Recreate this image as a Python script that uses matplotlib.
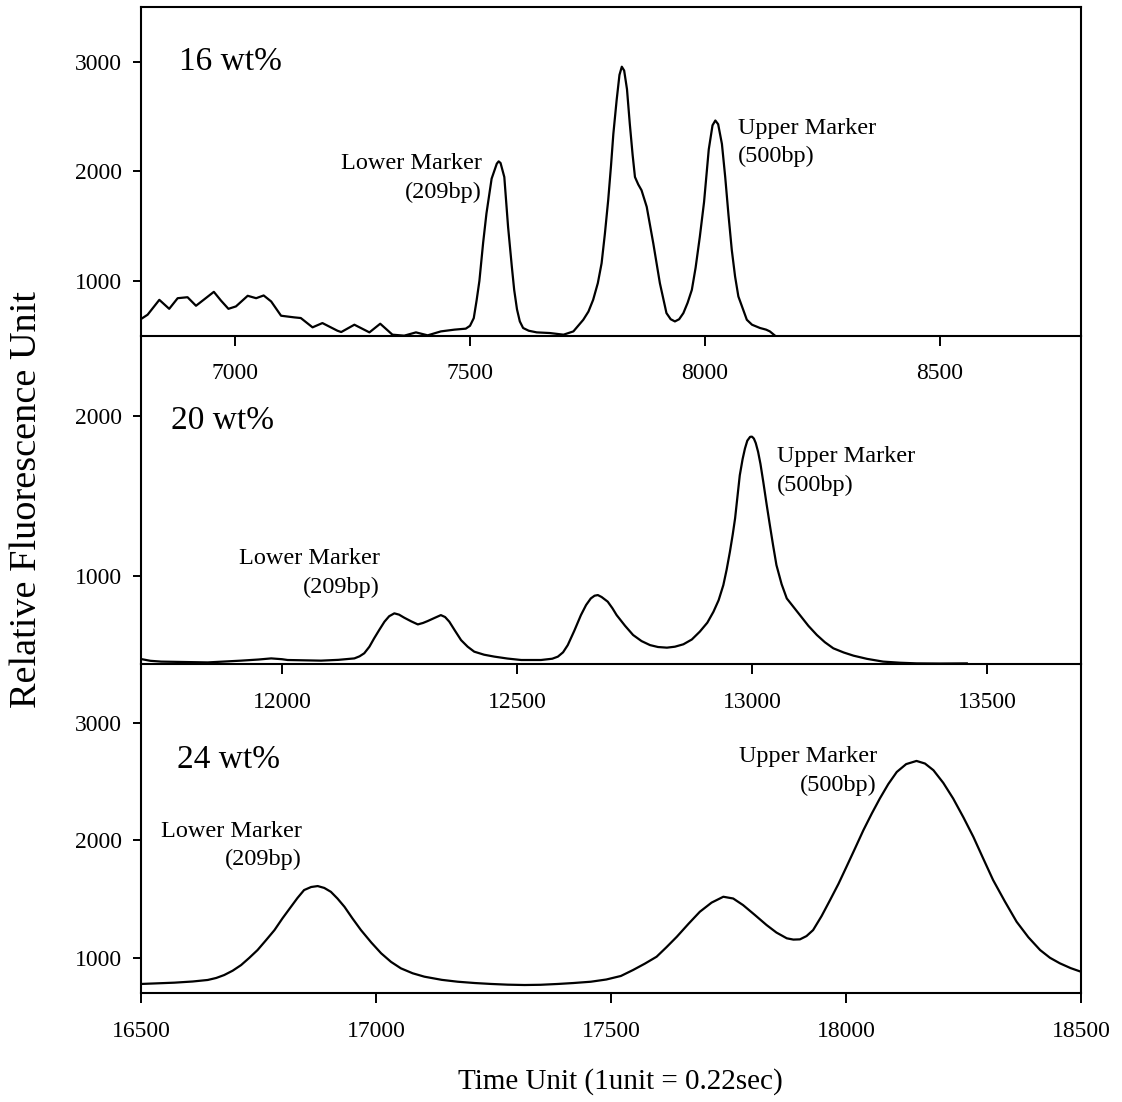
import matplotlib
matplotlib.use("Agg")
import matplotlib.pyplot as plt

plt.rcParams["font.family"] = ["Liberation Serif", "DejaVu Serif"]

# 16 wt% trace
x16 = [6800, 6814, 6839, 6860, 6878, 6899, 6917, 6935, 6955, 6970, 6986, 7002,
       7027, 7045, 7061, 7077, 7098, 7126, 7140, 7165, 7186, 7218, 7226, 7254,
       7286, 7309, 7335, 7360, 7385, 7410, 7438, 7467, 7491, 7500, 7508, 7514,
       7520, 7528, 7535, 7546, 7557, 7561, 7565, 7573, 7581, 7589, 7594, 7600,
       7606, 7613, 7625, 7642, 7670, 7699, 7720, 7741, 7752, 7762, 7772, 7780,
       7787, 7794, 7800, 7805, 7812, 7818, 7823, 7828, 7834, 7840, 7846, 7851,
       7858, 7865, 7876, 7890, 7904, 7918, 7927, 7936, 7945, 7954, 7963, 7972,
       7980, 7989, 7998, 8008, 8016, 8022, 8028, 8036, 8043, 8050, 8057, 8064,
       8071, 8089, 8100, 8117, 8130, 8138, 8149]
y16 = [652, 691, 827, 745, 842, 851, 773, 833, 900, 821, 745, 767,
       864, 842, 867, 812, 682, 667, 661, 576, 615, 545, 533, 600,
       530, 609, 509, 500, 530, 503, 539, 555, 564, 590, 660, 820,
       1000, 1350, 1615, 1933, 2070, 2091, 2076, 1948, 1494, 1130, 918, 740,
       630, 570, 545, 530, 524, 509, 539, 645, 720, 827, 980, 1161,
       1430, 1736, 2050, 2342, 2650, 2880, 2955, 2920, 2750, 2433, 2150, 1948,
       1880, 1827, 1676, 1342, 979, 706, 650, 630, 650, 706, 800, 918,
       1120, 1403, 1720, 2200, 2420, 2464, 2430, 2250, 1948, 1600, 1282, 1040,
       858, 645, 600, 570, 555, 539, 500]

# 20 wt% trace
x20 = [11700, 11720, 11743, 11842, 11913, 11950, 11977, 12000, 12012, 12083,
       12120, 12154, 12165, 12175, 12186, 12196, 12207, 12218, 12228, 12239,
       12249, 12260, 12275, 12289, 12300, 12310, 12325, 12338, 12347, 12356,
       12368, 12381, 12395, 12409, 12430, 12452, 12480, 12509, 12551, 12575,
       12587, 12598, 12608, 12622, 12636, 12647, 12657, 12665, 12672, 12680,
       12693, 12703, 12712, 12730, 12747, 12765, 12783, 12800, 12819, 12836,
       12854, 12872, 12889, 12905, 12918, 12929, 12939, 12946, 12953, 12959,
       12964, 12974, 12980, 12985, 12990, 12996, 13000, 13004, 13008, 13013,
       13018, 13024, 13031, 13038, 13045, 13052, 13063, 13074, 13102, 13120,
       13138, 13155, 13173, 13195, 13216, 13245, 13279, 13315, 13350, 13400,
       13457]
y20 = [483, 472, 467, 462, 473, 480, 487, 482, 477, 473,
       478, 487, 500, 519, 560, 612, 665, 716, 750, 768,
       760, 741, 718, 699, 708, 720, 740, 757, 745, 716,
       660, 601, 560, 529, 510, 498, 486, 477, 477, 485,
       498, 525, 570, 660, 757, 820, 861, 878, 882, 870,
       841, 800, 757, 690, 633, 595, 570, 558, 554, 560,
       575, 605, 654, 710, 778, 850, 944, 1040, 1152, 1260,
       1360, 1629, 1730, 1796, 1845, 1869, 1870, 1858, 1830, 1775,
       1700, 1588, 1450, 1318, 1190, 1069, 950, 861, 757, 690,
       633, 588, 550, 524, 504, 484, 467, 460, 456, 455,
       456]

# 24 wt% trace
x24 = [16500, 16571, 16610, 16642, 16660, 16677, 16695, 16713, 16730, 16748,
       16766, 16784, 16801, 16819, 16833, 16847, 16862, 16876, 16890, 16904,
       16918, 16933, 16950, 16968, 16990, 17011, 17032, 17053, 17078, 17103,
       17140, 17174, 17210, 17245, 17280, 17316, 17350, 17387, 17420, 17457,
       17490, 17521, 17547, 17572, 17597, 17618, 17640, 17665, 17689, 17714,
       17739, 17760, 17781, 17806, 17831, 17852, 17874, 17888, 17902, 17916,
       17930, 17948, 17966, 17984, 18001, 18019, 18037, 18055, 18072, 18090,
       18108, 18128, 18150, 18168, 18186, 18207, 18228, 18250, 18271, 18292,
       18313, 18338, 18363, 18388, 18413, 18434, 18455, 18478, 18500]
y24 = [777, 788, 798, 811, 828, 853, 890, 938, 998, 1066,
       1150, 1236, 1336, 1434, 1510, 1577, 1603, 1611, 1595, 1562,
       1505, 1434, 1335, 1236, 1130, 1038, 965, 910, 868, 839,
       812, 796, 785, 777, 771, 768, 770, 777, 785, 796,
       815, 845, 896, 950, 1009, 1090, 1179, 1290, 1392, 1470,
       1520, 1505, 1449, 1365, 1279, 1215, 1166, 1155, 1157, 1185,
       1236, 1355, 1491, 1630, 1775, 1930, 2087, 2230, 2357, 2480,
       2583, 2650, 2677, 2655, 2598, 2490, 2357, 2195, 2030, 1845,
       1662, 1480, 1307, 1175, 1066, 1000, 953, 912, 881]

panels = [
    dict(x=x16, y=y16, xlim=(6800, 8800), ylim=(500, 3500),
         xticks=[7000, 7500, 8000, 8500], yticks=[1000, 2000, 3000],
         name="16 wt%", name_xy=(6880, 3000),
         lower_xy=(7526, 1940), upper_xy=(8070, 2264), upper_ha="left"),
    dict(x=x20, y=y20, xlim=(11700, 13700), ylim=(450, 2500),
         xticks=[12000, 12500, 13000, 13500], yticks=[1000, 2000],
         name="20 wt%", name_xy=(11764, 1970),
         lower_xy=(12208, 1020), upper_xy=(13053, 1657), upper_ha="left"),
    dict(x=x24, y=y24, xlim=(16500, 18500), ylim=(700, 3500),
         xticks=[16500, 17000, 17500, 18000, 18500], yticks=[1000, 2000, 3000],
         name="24 wt%", name_xy=(16577, 2685),
         lower_xy=(16843, 1957), upper_xy=(18066, 2591), upper_ha="right"),
]

fig = plt.figure(figsize=(11.22, 11.02), dpi=100)
left, right = 141 / 1122, 1081 / 1122
top, bottom = 1 - 7 / 1102, 1 - 993 / 1102
h = (top - bottom) / 3

for i, p in enumerate(panels):
    ax = fig.add_axes([left, top - (i + 1) * h, right - left, h])
    ax.set_facecolor("none")
    ax.plot(p["x"], p["y"], color="black", lw=1.6)
    ax.set_xlim(*p["xlim"])
    ax.set_ylim(*p["ylim"])
    ax.set_xticks(p["xticks"])
    ax.set_yticks(p["yticks"])
    ax.tick_params(axis="x", direction="out", length=7, width=1.4,
                   labelsize=17, pad=13)
    ax.tick_params(axis="y", direction="out", length=6, width=1.4,
                   labelsize=17, pad=8)
    for s in ax.spines.values():
        s.set_linewidth(1.5)
    if i > 0:
        ax.spines["top"].set_visible(False)

    ax.text(*p["name_xy"], p["name"], fontsize=24, va="center", ha="left")
    ax.text(*p["lower_xy"], "Lower Marker\n(209bp)", fontsize=17.5,
            va="center", ha="right", multialignment="right", linespacing=1.45)
    ax.text(*p["upper_xy"], "Upper Marker\n(500bp)", fontsize=17.5,
            va="center", ha=p["upper_ha"], multialignment=p["upper_ha"],
            linespacing=1.45)

fig.text(27 / 1122, 1 - 500 / 1102, "Relative Fluorescence Unit",
         rotation=90, fontsize=27.5, va="center", ha="center")
fig.text(620 / 1122, 1 - 1082 / 1102, "Time Unit (1unit = 0.22sec)",
         fontsize=21, va="center", ha="center")

fig.savefig("out.png", dpi=100)
